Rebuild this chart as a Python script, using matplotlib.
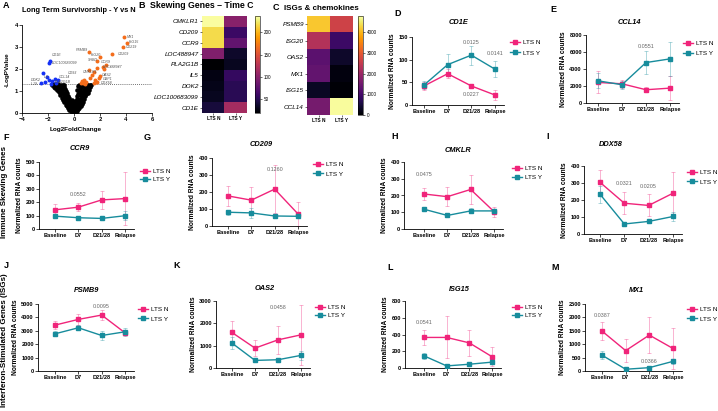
import numpy as np
import matplotlib
matplotlib.use('Agg')
import matplotlib.pyplot as plt
from matplotlib.lines import Line2D
from matplotlib.colors import to_rgba

plt.rcParams['font.family'] = ['Liberation Sans', 'DejaVu Sans']
plt.rcParams['axes.linewidth'] = 0.6

# ---------------- DATA ----------------
timepoints = ['Baseline', 'D7', 'D21/28', 'Relapse']
groups = ['LTS N', 'LTS Y']

# Volcano (A)
black_x = [-0.15, -0.25, -0.35, -0.45, -0.55, -0.65, -0.75, -0.85, -0.95, -1.05, -1.12, -1.2, -1.3, -1.4, -1.5, -1.62, -1.35, -1.25,
           -0.1, -0.2, -0.3, -0.4, -0.5, -0.6, -0.7, -0.8, -0.9, -1.0, -1.08, -1.15, -0.95, -1.0,
           -0.05, -0.12, -0.2, -0.28, -0.36, -0.45, -0.53, -0.62, -0.7, -0.8, -0.88, -0.75,
           0.12, 0.22, 0.32, 0.42, 0.52, 0.6, 0.7, 0.78, 0.86, 0.93, 1.0, 1.06, 1.12, 1.2, 1.05,
           0.08, 0.16, 0.25, 0.34, 0.42, 0.5, 0.58, 0.66, 0.74, 0.8, 0.88, 0.95, 0.85,
           0.03, 0.08, 0.14, 0.2, 0.26, 0.32, 0.38, 0.44, 0.5, 0.56, 0.65, 0.72, 0.3, 0.4, 0.22,
           0.0, -0.05, 0.05, 0.0, -0.02, 0.02, 0.0, -0.08, 0.1, -0.15,
           -0.3, -0.45, -0.6, -0.75, -0.9, -1.05, -1.2, -1.3, -1.45, -1.55, -1.7, -0.65, -0.85, -1.15, -1.4,
           0.3, 0.45, 0.6, 0.75, 0.9, 1.25, 1.3, 1.15, 1.05, 0.65, 0.85, 0.55, 0.45, 1.0, 0.15, -0.02]
black_y = [0.05, 0.1, 0.15, 0.22, 0.3, 0.38, 0.48, 0.58, 0.7, 0.82, 0.95, 1.05, 1.15, 1.22, 1.28, 1.3, 1.28, 1.25,
           0.12, 0.2, 0.28, 0.38, 0.48, 0.58, 0.68, 0.8, 0.92, 1.02, 1.12, 1.22, 1.15, 1.27,
           0.2, 0.32, 0.42, 0.55, 0.66, 0.78, 0.9, 1.0, 1.1, 1.2, 1.28, 1.26,
           0.04, 0.1, 0.16, 0.24, 0.33, 0.42, 0.52, 0.64, 0.76, 0.88, 1.0, 1.12, 1.22, 1.29, 1.27,
           0.14, 0.22, 0.3, 0.4, 0.5, 0.6, 0.72, 0.84, 0.95, 1.06, 1.16, 1.25, 1.28,
           0.25, 0.38, 0.5, 0.62, 0.75, 0.88, 1.0, 1.1, 1.2, 1.28, 1.22, 1.28, 1.22, 1.28, 1.05,
           0.03, 0.06, 0.08, 0.12, 0.3, 0.42, 0.5, 0.45, 0.55, 0.58,
           0.45, 0.6, 0.75, 0.9, 1.05, 1.2, 1.3, 1.05, 1.12, 1.2, 1.28, 0.5, 0.7, 1.1, 1.3,
           0.45, 0.65, 0.85, 1.05, 1.3, 1.18, 1.28, 1.05, 0.9, 0.6, 0.9, 0.95, 0.8, 1.15, 0.35, 0.2]
up_x = [3.85, 4.05, 3.8, 2.9, 1.15, 2.0, 1.75, 1.8, 2.25, 0.6, 0.75, 0.95, 1.2, 1.38, 1.5, 1.64, 1.76, 1.9, 2.0, 2.28, 2.48, 1.12, 0.55, 0.7, 1.55, 1.7, 0.85]
up_y = [3.45, 3.2, 2.98, 2.7, 2.75, 2.55, 2.35, 2.05, 2.1, 1.46, 1.52, 1.42, 1.57, 1.72, 1.87, 1.5, 1.42, 1.57, 1.67, 1.98, 2.17, 1.95, 1.35, 1.38, 1.35, 1.4, 1.33]
down_x = [-1.82, -1.95, -1.5, -2.07, -2.38, -1.7, -2.2, -1.95, -1.2, -1.35, -1.75, -2.55]
down_y = [2.36, 2.25, 1.54, 1.64, 1.8, 1.45, 1.41, 1.5, 1.5, 1.35, 1.33, 1.38]
gene_labels = ['MX1', 'ISG15', 'CD219', 'CD209', 'PSMB9', 'ISG20', 'SHBD', 'CCR9', 'LOC488947', 'CD93', 'CMKLR1', 'OAS2', 'GBP1', 'DDX58',
               'CD1E', 'LOC100683099', 'CCL14', 'IL5', 'DOK2', 'PLA2G1B', 'IL19']
gene_lx = [4.1, 4.25, 4.0, 3.4, 0.15, 1.3, 1.1, 2.05, 2.2, -0.45, 0.7, 2.1, 2.2, 2.1, -1.7, -1.7, -1.2, -2.3, -3.3, -1.45, -3.3]
gene_ly = [3.47, 3.22, 3.0, 2.7, 2.88, 2.62, 2.42, 2.32, 2.08, 1.82, 1.88, 1.72, 1.55, 1.38, 2.62, 2.28, 1.64, 1.62, 1.5, 1.42, 1.34]

# Heatmaps (B, C)
skew_genes = ['CMKLR1', 'CD209', 'CCR9', 'LOC488947', 'PLA2G1B', 'IL5', 'DOK2', 'LOC100683099', 'CD1E']
skew_n = [236, 217, 217, 95, 18, 25, 28, 30, 41]
skew_y = [100, 59, 79, 35, 30, 55, 50, 50, 115]
isg_genes = ['PSMB9', 'ISG20', 'OAS2', 'MX1', 'ISG15', 'CCL14']
isg_n = [4175, 2300, 1260, 1340, 300, 1560]
isg_y = [2650, 900, 370, 125, 45, 4760]

# Line charts (D-M)
cd1e_n = [42, 69, 42, 22];            cd1e_n_err = [9, 10, 4, 10]
cd1e_y = [44, 89, 110, 79];           cd1e_y_err = [8, 23, 21, 17]
ccl14_n = [2420, 2260, 1560, 1750];   ccl14_n_err = [1300, 500, 300, 1450]
ccl14_y = [2610, 2150, 4760, 5190];   ccl14_y_err = [900, 450, 1400, 2000]
ccr9_n = [143, 163, 217, 227];        ccr9_n_err = [43, 30, 65, 200]
ccr9_y = [96, 84, 79, 99];            ccr9_y_err = [15, 10, 8, 35]
cd209_n = [177, 152, 217, 71];        cd209_n_err = [60, 80, 140, 70]
cd209_y = [81, 77, 59, 57];           cd209_y_err = [15, 30, 10, 10]
cmklr_n = [209, 193, 236, 104];       cmklr_n_err = [38, 55, 85, 30]
cmklr_y = [118, 81, 108, 108];        cmklr_y_err = [12, 8, 15, 10]
ddx58_n = [304, 181, 168, 240];       ddx58_n_err = [73, 65, 65, 125]
ddx58_y = [234, 59, 74, 103];         ddx58_y_err = [50, 6, 8, 25]
psmb9_n = [3425, 3850, 4175, 2850];   psmb9_n_err = [300, 400, 350, 200]
psmb9_y = [2775, 3225, 2650, 2925];   psmb9_y_err = [200, 200, 300, 300]
oas2_n = [1590, 890, 1260, 1485];     oas2_n_err = [500, 350, 620, 1330]
oas2_y = [1115, 340, 370, 565];       oas2_y_err = [280, 80, 80, 200]
isg15_n = [365, 365, 300, 135];       isg15_n_err = [90, 250, 155, 115]
isg15_y = [145, 25, 45, 70];          isg15_y_err = [40, 10, 15, 25]
mx1_n = [1490, 760, 1340, 840];       mx1_n_err = [320, 420, 660, 750]
mx1_y = [590, 65, 125, 360];          mx1_y_err = [150, 50, 40, 100]

# ---------------- FIGURE ----------------
W, H = 718, 411
fig = plt.figure(figsize=(W / 100, H / 100), dpi=100)


def R(x0, y0, x1, y1):
    return [x0 / W, 1 - y1 / H, (x1 - x0) / W, (y1 - y0) / H]


def T(x, y, s, **kw):
    fig.text(x / W, 1 - y / H, s, **kw)


PINK = '#f0247a'
TEAL = '#178c9c'
ORANGE = '#f46d1b'
BLUE = '#1430f5'

# panel letters
for let, x, y in [('A', 6, 6), ('B', 142, 6), ('C', 276, 8), ('D', 398, 13), ('E', 553, 9),
                  ('F', 6, 137), ('G', 147, 137), ('H', 395, 136), ('I', 548, 136),
                  ('J', 6, 265), ('K', 177, 266), ('L', 390, 267), ('M', 555, 267)]:
    T(x, y, let, fontsize=6.5, fontweight='bold', ha='center', va='center')

# row labels
T(5, 192, 'Immune Skewing Genes', rotation=90, fontsize=5.8, fontweight='bold', ha='center', va='center')
T(5, 340, 'Interferon-Stimulated Genes (ISGs)', rotation=90, fontsize=5.8, fontweight='bold', ha='center', va='center')

# ---- A volcano ----
axA = fig.add_axes(R(22, 25, 152, 113))
axA.scatter(black_x, black_y, s=11, c='black', lw=0, zorder=2)
axA.scatter(up_x, up_y, s=8, c=ORANGE, lw=0, zorder=3)
axA.scatter(down_x, down_y, s=8, c=BLUE, lw=0, zorder=3)
axA.axhline(1.3, color='#444', ls=(0, (1, 1.5)), lw=0.6, zorder=1)
for t, x, y in zip(gene_labels, gene_lx, gene_ly):
    axA.text(x, y, t, fontsize=2.6, fontstyle='italic', color='#555', ha='left', va='center')
axA.set_xlim(-4, 6)
axA.set_ylim(0, 4)
axA.set_xticks([-4, -2, 0, 2, 4, 6])
axA.set_yticks([0, 1, 2, 3, 4])
for sp in ['top', 'right']:
    axA.spines[sp].set_visible(False)
axA.tick_params(labelsize=4.2, length=2, width=0.5, pad=1)
for lab in axA.get_xticklabels() + axA.get_yticklabels():
    lab.set_fontweight('bold')
T(76, 129, 'Log2FoldChange', fontsize=4.6, fontweight='bold', ha='center', va='center')
T(7, 70, '-LogPValue', fontsize=4.6, fontweight='bold', rotation=90, ha='center', va='center')
T(22, 11, 'Long Term Survivorship - Y vs N', fontsize=5.3, fontweight='bold', ha='left', va='center')


# ---- heatmaps ----
def heatmap(box, cbox, genes, nvals, yvals, vmin, vmax, cticks, title, title_xy, tfs):
    ax = fig.add_axes(R(*box))
    data = np.column_stack([nvals, yvals])
    im = ax.imshow(data, cmap='inferno', aspect='auto', vmin=vmin, vmax=vmax, interpolation='nearest')
    ax.set_xticks([0, 1])
    ax.set_xticklabels(groups, fontsize=3.4, fontweight='bold')
    ax.set_yticks(range(len(genes)))
    ax.set_yticklabels(genes, fontsize=4.6, fontstyle='italic')
    ax.tick_params(length=1.5, width=0.4, pad=0.8)
    for sp in ax.spines.values():
        sp.set_visible(False)
    cax = fig.add_axes(R(*cbox))
    cb = fig.colorbar(im, cax=cax, ticks=cticks)
    cb.ax.tick_params(labelsize=3.3, length=1.5, width=0.4, pad=1)
    cb.outline.set_linewidth(0.4)
    T(title_xy[0], title_xy[1], title, fontsize=tfs, fontweight='bold', ha='left', va='center')


heatmap((202, 16, 247, 113), (255, 16, 260, 113), skew_genes, skew_n, skew_y, 18, 237,
        [50, 100, 150, 200], 'Skewing Genes \u2013 Time C', (150, 6), 6.3)
heatmap((307, 16, 353, 115), (358, 16, 363, 115), isg_genes, isg_n, isg_y, 0, 4800,
        [0, 1000, 2000, 3000, 4000], 'ISGs & chemokines', (284, 9), 5.8)


# ---- line charts ----
def line_panel(ys, bx, rx, y0, ytop, ymax, ystep, title, tx, ty, nv, ne, yv, ye, pvals, lx, ly, lsp):
    s = (rx - bx) / 3.0
    left = -(bx - ys) / s
    right = 3.38
    x1 = ys + (right - left) * s
    ax = fig.add_axes(R(ys, ytop, x1, y0))
    ax.set_xlim(left, right)
    ax.set_ylim(0, ymax)
    xs = np.arange(4)
    ax.errorbar(xs, nv, yerr=ne, fmt='none', ecolor=to_rgba(PINK, 0.4), elinewidth=0.6,
                capsize=1.3, capthick=0.6, zorder=2)
    ax.errorbar(xs, yv, yerr=ye, fmt='none', ecolor=to_rgba(TEAL, 0.4), elinewidth=0.6,
                capsize=1.3, capthick=0.6, zorder=2)
    ax.plot(xs, nv, color=PINK, marker='s', ms=2.2, lw=1.0, zorder=3)
    ax.plot(xs, yv, color=TEAL, marker='s', ms=2.2, lw=1.0, zorder=3)
    for txt, xi, yvv in pvals:
        ax.text(xi, yvv, txt, fontsize=3.9, color='#666', ha='center', va='center')
    for sp in ['top', 'right']:
        ax.spines[sp].set_visible(False)
    ax.spines['left'].set_bounds(0, ymax)
    ax.set_xticks(xs)
    ax.set_xticklabels(timepoints)
    ax.set_yticks(np.arange(0, ymax + 1, ystep))
    ax.tick_params(labelsize=4.1, length=2, width=0.5, pad=1)
    for lab in ax.get_xticklabels() + ax.get_yticklabels():
        lab.set_fontweight('bold')
    ax.set_ylabel('Normalized RNA counts', fontsize=4.8, fontweight='bold', labelpad=1.5)
    T(tx, ty, title, fontsize=5.3, fontweight='bold', fontstyle='italic', ha='center', va='center')
    handles = [Line2D([0], [0], color=PINK, marker='s', ms=2.2, lw=1.0),
               Line2D([0], [0], color=TEAL, marker='s', ms=2.2, lw=1.0)]
    ax.legend(handles, groups, loc='upper left', bbox_to_anchor=(lx / W, 1 - (ly - 3.5) / H),
              bbox_transform=fig.transFigure, frameon=False, fontsize=4.6, handlelength=1.6,
              handletextpad=0.4, labelspacing=lsp, borderpad=0, borderaxespad=0)
    return ax


line_panel(412, 424, 495, 105, 37, 150, 50, 'CD1E', 459, 23, cd1e_n, cd1e_n_err, cd1e_y, cd1e_y_err,
           [('0.0125', 2, 137), ('0.0141', 3, 113), ('0.0227', 2, 23)], 510, 43, 0.8)
line_panel(586, 598, 670, 103, 35, 8000, 2000, 'CCL14', 629, 23, ccl14_n, ccl14_n_err, ccl14_y, ccl14_y_err,
           [('0.0551', 2, 6700)], 683, 44, 0.7)
line_panel(39, 55, 125, 229, 162, 500, 100, 'CCR9', 80, 148, ccr9_n, ccr9_n_err, ccr9_y, ccr9_y_err,
           [('0.0552', 1, 254)], 140, 172, 0.45)
line_panel(212, 228, 298, 226, 158, 400, 100, 'CD209', 261, 144, cd209_n, cd209_n_err, cd209_y, cd209_y_err,
           [('0.1260', 2, 335)], 313, 165, 0.65)
line_panel(404, 424, 494, 229, 162, 400, 100, 'CMKLR', 458, 150, cmklr_n, cmklr_n_err, cmklr_y, cmklr_y_err,
           [('0.0475', 0, 327)], 512, 169, 0.55)
line_panel(584, 600, 673, 234, 166, 400, 100, 'DDX58', 611, 145, ddx58_n, ddx58_n_err, ddx58_y, ddx58_y_err,
           [('0.0321', 1, 298), ('0.0205', 2, 279)], 687, 173, 0.65)
line_panel(38, 55, 125, 371, 304, 5000, 1000, 'PSMB9', 87, 290, psmb9_n, psmb9_n_err, psmb9_y, psmb9_y_err,
           [('0.0095', 2, 4850)], 138, 310, 0.65)
line_panel(216, 232, 301, 368, 301, 3000, 1000, 'OAS2', 265, 288, oas2_n, oas2_n_err, oas2_y, oas2_y_err,
           [('0.0458', 2, 2720)], 315, 308, 0.45)
line_panel(405, 424, 492, 368, 301, 800, 200, 'ISG15', 459, 289, isg15_n, isg15_n_err, isg15_y, isg15_y_err,
           [('0.0541', 0, 547)], 512, 308, 0.45)
line_panel(585, 602, 673, 371, 304, 2500, 500, 'MX1', 636, 290, mx1_n, mx1_n_err, mx1_y, mx1_y_err,
           [('0.0387', 0, 2060), ('0.0366', 2, 340)], 687, 310, 0.65)

fig.savefig('out.png', dpi=100)
